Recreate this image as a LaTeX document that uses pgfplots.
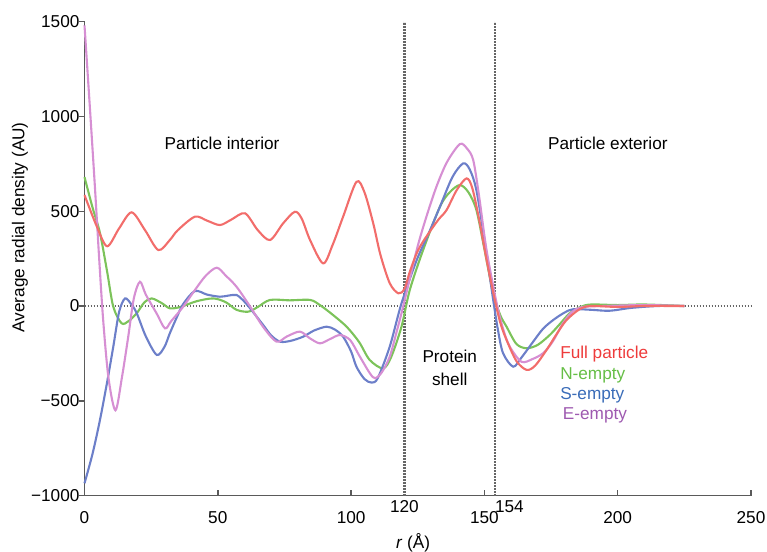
\documentclass[border=0pt]{standalone}
\usepackage{pgfplots}
\pgfplotsset{compat=1.18}
\usepackage{fontspec}
\setmainfont{Liberation Sans}

\definecolor{fullc}{HTML}{F26D6B}
\definecolor{nc}{HTML}{7CC35A}
\definecolor{sc}{HTML}{6C7FC9}
\definecolor{ec}{HTML}{D68FD3}
\definecolor{fullt}{HTML}{EE3B3B}
\definecolor{nt}{HTML}{66BE46}
\definecolor{st}{HTML}{3A6CB8}
\definecolor{et}{HTML}{9E5AB0}
\definecolor{axc}{HTML}{5A5A5A}

\begin{document}
\begin{tikzpicture}
\begin{axis}[
    scale only axis,
    width=333.25pt, height=237pt,
    xmin=0, xmax=250, ymin=-1000, ymax=1500,
    axis lines=left,
    axis line style={-, axc, line width=0.75pt},
    clip=false,
    font=\fontsize{8.6}{10}\selectfont,
    xtick={0,50,100,150,200,250},
    ytick={-1000,-500,0,500,1000,1500},
    yticklabels={−1000,−500,0,500,1000,1500},
    tick align=inside,
    major tick length=2.8pt,
    tick style={axc, line width=0.7pt},
    ytick style={xshift=-2.8pt},
    xticklabel style={yshift=-4.5pt},
    yticklabel style={xshift=1pt},
    /pgf/number format/assume math mode=true,
    extra x ticks={120,154},
    extra x tick labels={120,\makebox[0pt][l]{154}},
    extra x tick style={major tick length=0pt, xticklabel style={yshift=5.5pt}},
    xlabel={\textit{r} (Å)},
    ylabel={Average radial density (AU)},
    every axis x label/.style={at={(rel axis cs:0.493,-0.1)}, anchor=center},
    every axis y label/.style={at={(rel axis cs:-0.097,0.566)}, rotate=90, anchor=center},
    every axis plot/.append style={smooth, line width=1.05pt},
    refline/.style={sharp plot, black!60, line width=1.1pt, dash pattern=on 0.6pt off 0.9pt},
]
% reference lines
\addplot[refline] coordinates {(0,0) (250,0)};
\addplot[refline] coordinates {(120,-1000) (120,1500)};
\addplot[refline] coordinates {(154,-1000) (154,1500)};

% N-empty
\addplot[nc] coordinates {
(0,680) (3,520) (5.8,385) (8.5,180) (10.8,-4) (13.9,-91) (16.5,-80) (19.6,-38)
(22.5,20) (25.2,40) (29,15) (32,-12) (36,-5) (42,25) (48.3,40) (53,20) (57,-20)
(61.4,-30) (65,-5) (69.6,32) (77,30) (84.6,32) (88.3,5) (93,-45) (98.3,-109)
(103,-190) (107,-285) (112,-329) (115,-270) (118.9,-109) (122,84) (127,295)
(133.3,523) (137,600) (140.8,638) (144,600) (147,506) (150,300) (153.3,67)
(156,-50) (158.3,-109) (162,-200) (165.8,-223) (170,-205) (174.5,-153) (178,-100)
(182,-38) (186,-5) (190,8) (200,5) (210,8) (225,0)};

% S-empty
\addplot[sc] coordinates {
(0,-935) (3,-780) (5.8,-601) (8.5,-400) (10.8,-214) (13,-30) (15.2,40) (17.5,10)
(19.6,-38) (23,-160) (27.1,-258) (30,-215) (32,-144) (34.6,-60) (37,10) (41.4,79)
(46,60) (50.8,49) (54,55) (57,58) (59.5,30) (62,-10) (67,-100) (70,-155) (73.3,-188)
(77,-185) (82,-162) (86,-130) (90.8,-109) (94,-125) (97,-162) (100,-240) (102,-320)
(105,-385) (107.7,-404) (110,-380) (114.5,-214) (118.9,14) (124.6,242) (129,380)
(133.3,523) (138,680) (142,752) (144.5,720) (147,611) (150,350) (153.3,32)
(155,-120) (157,-249) (160.8,-320) (164,-270) (168.3,-188) (172,-120) (175.8,-74)
(180,-35) (183.3,-17) (190,-20) (197,-25) (205,-10) (215,0) (225,0)};

% E-empty
\addplot[ec] coordinates {
(0,1480) (2,1050) (3.9,629) (5.5,250) (7,-74) (9,-380) (11.6,-550) (14,-380)
(16.4,-162) (18.5,40) (20.8,128) (23,60) (27,-38) (30.2,-118) (32.5,-80) (37,-4)
(41.4,84) (45.5,160) (49.6,202) (53,160) (57,102) (62,0) (67,-110) (72,-188)
(76,-160) (80.8,-135) (84.5,-170) (88.3,-197) (92,-175) (95.8,-153) (99.6,-179)
(103,-260) (107,-354) (109,-381) (111.5,-350) (114.5,-267) (117,-140) (119.5,-4)
(124.6,295) (128,460) (132,629) (136,760) (140.8,854) (143.5,830) (145.8,770)
(148,580) (150.8,295) (154.6,14) (157,-120) (159.5,-214) (163.9,-294) (168,-280)
(172,-249) (175.5,-190) (179.5,-91) (183,-30) (187,-5) (195,0) (210,5) (225,0)};

% Full particle
\addplot[fullc] coordinates {
(0,585) (4.6,420) (8.5,315) (13,410) (17.7,494) (22.7,400) (27.7,295) (32,348)
(35,400) (41.4,471) (46,450) (50.8,427) (55,455) (60.2,489) (65,400) (69.6,348)
(74.5,436) (78.9,497) (81.5,460) (84.6,348) (89.5,225) (93,320) (97,471)
(102,655) (105,600) (108.3,436) (111,270) (114.5,120) (117.7,67) (120,90)
(122,180) (124.6,278) (127,340) (130.8,418) (133,460) (135.8,506) (139.6,611)
(143.3,673) (145.5,620) (148.3,436) (151,230) (153.9,32) (156,-90) (158.3,-179)
(162,-290) (165.8,-337) (169,-315) (173.3,-232) (177,-150) (180.8,-74)
(185.8,-16) (190,0) (200,-5) (210,0) (225,0)};

% annotations
\node at (axis cs:51.6,859) {Particle interior};
\node at (axis cs:196.3,859) {Particle exterior};
\node[align=center, font=\fontsize{8.6}{11.5}\selectfont] at (axis cs:137,-327) {Protein\\shell};
\node[anchor=west, text=fullt, inner sep=0pt] at (axis cs:178.3,-253) {Full particle};
\node[anchor=west, text=nt, inner sep=0pt] at (axis cs:178.3,-364) {N-empty};
\node[anchor=west, text=st, inner sep=0pt] at (axis cs:178.3,-469) {S-empty};
\node[anchor=west, text=et, inner sep=0pt] at (axis cs:179.3,-575) {E-empty};

\coordinate (bbl) at (rel axis cs:-0.1268,-0.1188);
\coordinate (btr) at (rel axis cs:1.024,1.0456);
\end{axis}
\pgfresetboundingbox
\path[use as bounding box] (bbl) rectangle (btr);
\end{tikzpicture}
\end{document}
